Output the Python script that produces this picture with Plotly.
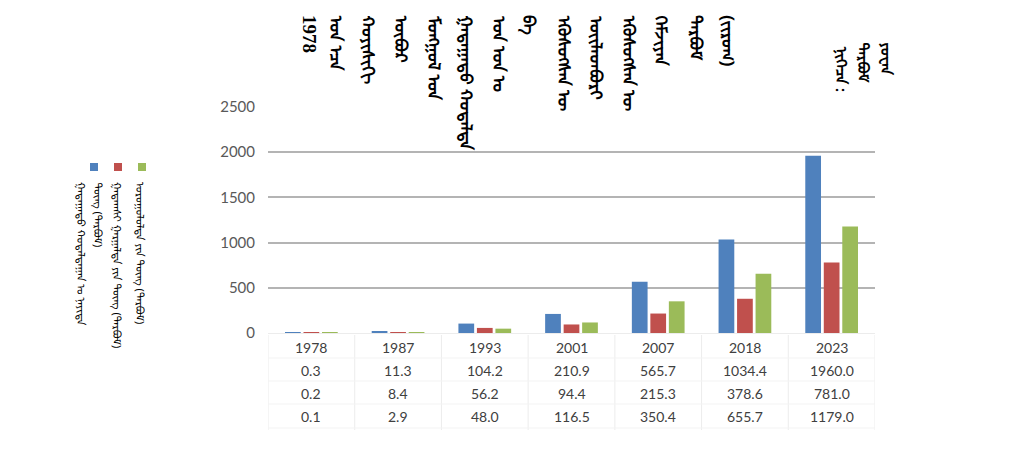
import plotly.graph_objects as go

# ---------------- data ----------------
years = ["1978", "1987", "1993", "2001", "2007", "2018", "2023"]
total = [0.3, 11.3, 104.2, 210.9, 565.7, 1034.4, 1960.0]
export_vals = [0.2, 8.4, 56.2, 94.4, 215.3, 378.6, 781.0]
import_vals = [0.1, 2.9, 48.0, 116.5, 350.4, 655.7, 1179.0]

series_names = [
    "ᠭᠠᠳᠠᠭᠠᠳᠤ ᠬᠤᠳᠠᠯᠳᠠᠭᠠᠨ ᠤ ᠨᠡᠶᠢᠲᠡ ᠳᠦᠩ (ᠲᠡᠷᠪᠦᠮ)",
    "ᠭᠠᠳᠠᠭᠰᠢ ᠭᠠᠷᠭᠠᠯᠲᠠ ᠶᠢᠨ ᠳᠦᠩ (ᠲᠡᠷᠪᠦᠮ)",
    "ᠣᠷᠣᠭᠤᠯᠤᠯᠲᠠ ᠶᠢᠨ ᠳᠦᠩ (ᠲᠡᠷᠪᠦᠮ)",
]
legend_columns = [
    ["ᠭᠠᠳᠠᠭᠠᠳᠤ ᠬᠤᠳᠠᠯᠳᠠᠭᠠᠨ ᠤ ᠨᠡᠶᠢᠲᠡ", "ᠳᠦᠩ (ᠲᠡᠷᠪᠦᠮ)"],
    ["ᠭᠠᠳᠠᠭᠰᠢ ᠭᠠᠷᠭᠠᠯᠲᠠ ᠶᠢᠨ ᠳᠦᠩ (ᠲᠡᠷᠪᠦᠮ)"],
    ["ᠣᠷᠣᠭᠤᠯᠤᠯᠲᠠ ᠶᠢᠨ ᠳᠦᠩ (ᠲᠡᠷᠪᠦᠮ)"],
]
title_columns = ["1978", "ᠣᠨ ᠡᠴᠡ", "ᠬᠣᠶᠢᠰᠢᠬᠢ", "ᠦᠪᠦᠷ", "ᠮᠣᠩᠭᠣᠯ ᠤᠨ",
                 "ᠭᠠᠳᠠᠭᠠᠳᠤ ᠬᠤᠳᠠᠯᠳᠠ", "ᠣᠨ ᠣᠨ ᠤ", "ᠪᠠ", "ᠡᠭᠦᠰᠦᠭᠰᠡᠨ ᠦ",
                 "ᠦᠢᠯᠡᠳᠪᠦᠷᠢ", "ᠡᠭᠦᠰᠦᠭᠰᠡᠨ ᠦ", "ᠬᠡᠮᠵᠢᠶᠡᠨ", "ᠲᠡᠷᠪᠦᠮ", "(ᠵᠢᠷᠤᠭ)"]
unit_columns = ["ᠨᠢᠭᠡᠴᠡ :", "ᠲᠡᠷᠪᠦᠮ", "ᠶᠤᠸᠠᠨ"]
colors = ["#4F81BD", "#C0504D", "#9BBB59"]

# ---------------- layout geometry ----------------
W, H = 1020, 465
L, R, T, B = 268, 875, 107, 333   # plot area in pixels


def xp(px):
    return (px - L) / (R - L)


def yp(py):
    return (B - py) / (B - T)


MONG_FONT = "Noto Sans Mongolian, Mongolian Baiti, DejaVu Sans, serif"
LABEL_FONT = "Lato, Open Sans, sans-serif"

idx = list(range(len(years)))
fig = go.Figure()
for name, vals, col in zip(series_names, [total, export_vals, import_vals], colors):
    fig.add_trace(go.Bar(x=idx, y=vals, name=name, marker_color=col,
                         marker_line_width=0, showlegend=False))

annotations = []
shapes = []

# data table under the plot
row_py = [347, 370, 393, 416]
rows = [years, [f"{v:.1f}" for v in total], [f"{v:.1f}" for v in export_vals],
        [f"{v:.1f}" for v in import_vals]]
for r, (py, vals) in enumerate(zip(row_py, rows)):
    for i, v in enumerate(vals):
        annotations.append(dict(x=i, y=yp(py), xref="x", yref="paper", text=v,
                                showarrow=False, xanchor="center", yanchor="middle",
                                font=dict(family=LABEL_FONT, size=14, color="#404040")))
for k in range(len(years) + 1):
    shapes.append(dict(type="line", xref="x", yref="paper", x0=k - 0.5, x1=k - 0.5,
                       y0=yp(335), y1=yp(430), line=dict(color="#ececec", width=1)))
for py in [358, 381, 404, 428]:
    shapes.append(dict(type="line", xref="paper", yref="paper", x0=0, x1=1,
                       y0=yp(py), y1=yp(py), line=dict(color="#f3f3f3", width=1)))

# title (vertical columns)
title_x = [310, 340, 372, 405, 438, 470, 503, 533, 568, 600, 633, 665, 700, 732]
for i, (t, px) in enumerate(zip(title_columns, title_x)):
    if i == 0:
        f = dict(family="Liberation Serif, serif", size=19, color="#000000", weight="bold")
    else:
        f = dict(family=MONG_FONT, size=17, color="#000000", weight="bold")
    annotations.append(dict(x=xp(px), y=yp(13), xref="paper", yref="paper", text=t,
                            textangle=90, showarrow=False, xanchor="center", yanchor="top",
                            font=f))
# unit text
unit_x = [845, 867, 890]
unit_y = [44, 40, 40]
for t, px, py in zip(unit_columns, unit_x, unit_y):
    annotations.append(dict(x=xp(px), y=yp(py), xref="paper", yref="paper", text=t,
                            textangle=90, showarrow=False, xanchor="center", yanchor="top",
                            font=dict(family=MONG_FONT, size=15, color="#000000",
                                      weight="bold")))

# legend (vertical)
marker_x = [94, 118, 142]
col_x = [[84, 100], [120], [143]]
for col, mx, cols_px, texts in zip(colors, marker_x, col_x, legend_columns):
    shapes.append(dict(type="rect", xref="paper", yref="paper",
                       x0=xp(mx - 4), x1=xp(mx + 4), y0=yp(163), y1=yp(171),
                       fillcolor=col, line=dict(width=0)))
    for t, px in zip(texts, cols_px):
        annotations.append(dict(x=xp(px), y=yp(180), xref="paper", yref="paper", text=t,
                                textangle=90, showarrow=False, xanchor="center",
                                yanchor="top",
                                font=dict(family=MONG_FONT, size=11, color="#000000")))

fig.update_layout(
    width=W, height=H,
    margin=dict(l=L, r=W - R, t=T, b=H - B, pad=0),
    paper_bgcolor="white", plot_bgcolor="white",
    barmode="group", bargap=0.36, bargroupgap=0.15,
    showlegend=False,
    annotations=annotations, shapes=shapes,
    xaxis=dict(range=[-0.5, len(years) - 0.5], showticklabels=False, showgrid=False,
               zeroline=False, showline=False, fixedrange=True),
    yaxis=dict(range=[0, 2500], dtick=500, tick0=0, showgrid=True, gridcolor="#b4b4b4",
               gridwidth=1.5, zeroline=True, zerolinecolor="#ececec", zerolinewidth=1,
               showline=False, ticks="", ticklabelstandoff=12,
               tickfont=dict(family=LABEL_FONT, size=15, color="#595959")),
)

fig.write_html("out.html")
